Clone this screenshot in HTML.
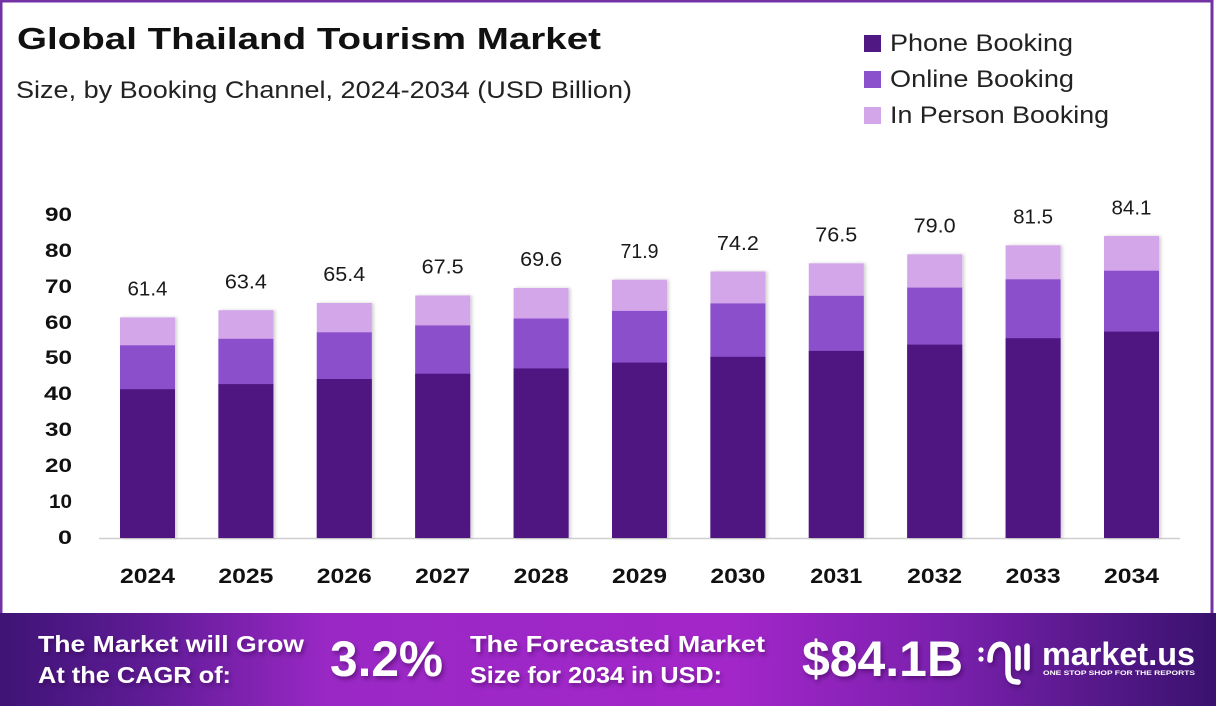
<!DOCTYPE html>
<html><head><meta charset="utf-8">
<style>
html,body{margin:0;padding:0;background:#fff;}
svg{display:block;}
text{font-family:"Liberation Sans",sans-serif;}
</style></head>
<body>
<svg width="1216" height="708" viewBox="0 0 1216 708" xmlns="http://www.w3.org/2000/svg">
<defs>
<linearGradient id="bn" x1="0" y1="0" x2="1" y2="0">
<stop offset="0" stop-color="#3e1475"/>
<stop offset="0.12" stop-color="#5e1b95"/>
<stop offset="0.27" stop-color="#9a28c5"/>
<stop offset="0.6" stop-color="#a326c9"/>
<stop offset="0.78" stop-color="#7a20ad"/>
<stop offset="1" stop-color="#3a126e"/>
</linearGradient>
<filter id="ts" x="-10%" y="-30%" width="130%" height="160%">
<feDropShadow dx="2" dy="3" stdDeviation="2" flood-color="#2a0a40" flood-opacity="0.45"/>
</filter>
<filter id="bs" x="-20%" y="-5%" width="140%" height="110%">
<feDropShadow dx="2" dy="0" stdDeviation="1.5" flood-color="#000" flood-opacity="0.18"/>
</filter>
</defs>
<rect x="0" y="0" width="1216" height="708" fill="#fff"/>
<!-- border -->
<rect x="1" y="1" width="1211" height="620" fill="none" stroke="#7232a4" stroke-width="3"/>

<!-- title -->
<text x="17" y="49" font-size="31" font-weight="bold" fill="#111" textLength="584" lengthAdjust="spacingAndGlyphs">Global Thailand Tourism Market</text>
<text x="16" y="98" font-size="24" fill="#222" textLength="616" lengthAdjust="spacingAndGlyphs">Size, by Booking Channel, 2024-2034 (USD Billion)</text>

<!-- legend -->
<rect x="864" y="35" width="17" height="17" fill="#4f1882"/>
<rect x="864" y="71" width="17" height="17" fill="#8b50cc"/>
<rect x="864" y="107" width="17" height="17" fill="#d3a6ea"/>
<text x="890" y="51" font-size="24" fill="#222" textLength="183" lengthAdjust="spacingAndGlyphs">Phone Booking</text>
<text x="890" y="87" font-size="24" fill="#222" textLength="184" lengthAdjust="spacingAndGlyphs">Online Booking</text>
<text x="890" y="123" font-size="24" fill="#222" textLength="219" lengthAdjust="spacingAndGlyphs">In Person Booking</text>

<!-- y axis labels -->
<g font-size="19" font-weight="bold" fill="#111" text-anchor="end">
<text x="72" y="221" textLength="27" lengthAdjust="spacingAndGlyphs">90</text>
<text x="72" y="257" textLength="27" lengthAdjust="spacingAndGlyphs">80</text>
<text x="72" y="293" textLength="27" lengthAdjust="spacingAndGlyphs">70</text>
<text x="72" y="329" textLength="27" lengthAdjust="spacingAndGlyphs">60</text>
<text x="72" y="364" textLength="27" lengthAdjust="spacingAndGlyphs">50</text>
<text x="72" y="400" textLength="28" lengthAdjust="spacingAndGlyphs">40</text>
<text x="72" y="436" textLength="27" lengthAdjust="spacingAndGlyphs">30</text>
<text x="72" y="472" textLength="27" lengthAdjust="spacingAndGlyphs">20</text>
<text x="72" y="508" textLength="23" lengthAdjust="spacingAndGlyphs">10</text>
<text x="72" y="544" textLength="14" lengthAdjust="spacingAndGlyphs">0</text>
</g>

<!-- axis line -->
<line x1="99" y1="538.5" x2="1180" y2="538.5" stroke="#cfcfcf" stroke-width="1.5"/>

<!-- bars -->
<g filter="url(#bs)">
<rect x="120" y="317.4" width="55" height="220.6" fill="#d3a6ea"/><rect x="120" y="345.3" width="55" height="192.7" fill="#8b50cc"/><rect x="120" y="389.2" width="55" height="148.8" fill="#4f1882"/>
<rect x="218.4" y="310.2" width="55" height="227.8" fill="#d3a6ea"/><rect x="218.4" y="338.8" width="55" height="199.2" fill="#8b50cc"/><rect x="218.4" y="384.1" width="55" height="153.9" fill="#4f1882"/>
<rect x="316.8" y="303.0" width="55" height="235.0" fill="#d3a6ea"/><rect x="316.8" y="332.3" width="55" height="205.7" fill="#8b50cc"/><rect x="316.8" y="379.0" width="55" height="159.0" fill="#4f1882"/>
<rect x="415.2" y="295.5" width="55" height="242.5" fill="#d3a6ea"/><rect x="415.2" y="325.4" width="55" height="212.6" fill="#8b50cc"/><rect x="415.2" y="373.7" width="55" height="164.3" fill="#4f1882"/>
<rect x="513.6" y="288.0" width="55" height="250.0" fill="#d3a6ea"/><rect x="513.6" y="318.5" width="55" height="219.5" fill="#8b50cc"/><rect x="513.6" y="368.4" width="55" height="169.6" fill="#4f1882"/>
<rect x="612" y="279.7" width="55" height="258.3" fill="#d3a6ea"/><rect x="612" y="310.9" width="55" height="227.1" fill="#8b50cc"/><rect x="612" y="362.6" width="55" height="175.4" fill="#4f1882"/>
<rect x="710.4" y="271.5" width="55" height="266.5" fill="#d3a6ea"/><rect x="710.4" y="303.4" width="55" height="234.6" fill="#8b50cc"/><rect x="710.4" y="356.8" width="55" height="181.2" fill="#4f1882"/>
<rect x="808.8" y="263.3" width="55" height="274.7" fill="#d3a6ea"/><rect x="808.8" y="295.8" width="55" height="242.2" fill="#8b50cc"/><rect x="808.8" y="350.9" width="55" height="187.1" fill="#4f1882"/>
<rect x="907.2" y="254.3" width="55" height="283.7" fill="#d3a6ea"/><rect x="907.2" y="287.6" width="55" height="250.4" fill="#8b50cc"/><rect x="907.2" y="344.6" width="55" height="193.4" fill="#4f1882"/>
<rect x="1005.6" y="245.3" width="55" height="292.7" fill="#d3a6ea"/><rect x="1005.6" y="279.3" width="55" height="258.7" fill="#8b50cc"/><rect x="1005.6" y="338.2" width="55" height="199.8" fill="#4f1882"/>
<rect x="1104" y="236.0" width="55" height="302.0" fill="#d3a6ea"/><rect x="1104" y="270.7" width="55" height="267.3" fill="#8b50cc"/><rect x="1104" y="331.6" width="55" height="206.4" fill="#4f1882"/>
</g>

<!-- value labels -->
<g font-size="20" fill="#1a1a1a" text-anchor="middle">
<text x="147.5" y="295.5" textLength="40" lengthAdjust="spacingAndGlyphs">61.4</text>
<text x="245.9" y="288.5" textLength="42" lengthAdjust="spacingAndGlyphs">63.4</text>
<text x="344.3" y="281" textLength="42" lengthAdjust="spacingAndGlyphs">65.4</text>
<text x="442.7" y="273.5" textLength="42" lengthAdjust="spacingAndGlyphs">67.5</text>
<text x="541.1" y="266" textLength="42" lengthAdjust="spacingAndGlyphs">69.6</text>
<text x="639.5" y="258" textLength="38" lengthAdjust="spacingAndGlyphs">71.9</text>
<text x="737.9" y="250" textLength="42" lengthAdjust="spacingAndGlyphs">74.2</text>
<text x="836.3" y="241.5" textLength="42" lengthAdjust="spacingAndGlyphs">76.5</text>
<text x="934.7" y="232.5" textLength="42" lengthAdjust="spacingAndGlyphs">79.0</text>
<text x="1033.1" y="223.5" textLength="40" lengthAdjust="spacingAndGlyphs">81.5</text>
<text x="1131.5" y="214.5" textLength="40" lengthAdjust="spacingAndGlyphs">84.1</text>
</g>

<!-- x labels -->
<g font-size="21" font-weight="bold" fill="#111" text-anchor="middle">
<text x="147.5" y="583" textLength="55" lengthAdjust="spacingAndGlyphs">2024</text>
<text x="245.9" y="583" textLength="55" lengthAdjust="spacingAndGlyphs">2025</text>
<text x="344.3" y="583" textLength="55" lengthAdjust="spacingAndGlyphs">2026</text>
<text x="442.7" y="583" textLength="55" lengthAdjust="spacingAndGlyphs">2027</text>
<text x="541.1" y="583" textLength="55" lengthAdjust="spacingAndGlyphs">2028</text>
<text x="639.5" y="583" textLength="55" lengthAdjust="spacingAndGlyphs">2029</text>
<text x="737.9" y="583" textLength="55" lengthAdjust="spacingAndGlyphs">2030</text>
<text x="836.3" y="583" textLength="52" lengthAdjust="spacingAndGlyphs">2031</text>
<text x="934.7" y="583" textLength="55" lengthAdjust="spacingAndGlyphs">2032</text>
<text x="1033.1" y="583" textLength="55" lengthAdjust="spacingAndGlyphs">2033</text>
<text x="1131.5" y="583" textLength="55" lengthAdjust="spacingAndGlyphs">2034</text>
</g>

<!-- banner -->
<rect x="0" y="613" width="1216" height="93" fill="url(#bn)"/>
<g fill="#fff" font-weight="bold" filter="url(#ts)">
<text x="38" y="652" font-size="23" textLength="266" lengthAdjust="spacingAndGlyphs">The Market will Grow</text>
<text x="38" y="683" font-size="23" textLength="193" lengthAdjust="spacingAndGlyphs">At the CAGR of:</text>
<text x="330" y="676" font-size="50" textLength="113" lengthAdjust="spacingAndGlyphs">3.2%</text>
<text x="470" y="652" font-size="23" textLength="295" lengthAdjust="spacingAndGlyphs">The Forecasted Market</text>
<text x="470" y="683" font-size="23" textLength="252" lengthAdjust="spacingAndGlyphs">Size for 2034 in USD:</text>
<text x="802" y="676" font-size="50" textLength="161" lengthAdjust="spacingAndGlyphs">$84.1B</text>
</g>
<!-- logo -->
<g fill="none" stroke="#fff" stroke-width="5.5" stroke-linecap="round" filter="url(#ts)">
<path d="M990 660 C990 640, 1008 640, 1008 655 L1008 672 C1008 680, 1012 682, 1018 682"/>
<line x1="1018" y1="648" x2="1018" y2="668"/>
<line x1="1027" y1="646" x2="1027" y2="668"/>
</g>
<circle cx="981" cy="650" r="2.6" fill="#fff"/>
<circle cx="981" cy="659" r="2.6" fill="#fff"/>
<text x="1042" y="665" font-size="32" font-weight="bold" fill="#fff" textLength="153" lengthAdjust="spacingAndGlyphs">market.us</text>
<text x="1043" y="675" font-size="6.5" font-weight="bold" fill="#fff" textLength="152" lengthAdjust="spacingAndGlyphs">ONE STOP SHOP FOR THE REPORTS</text>
</svg>
</body></html>
